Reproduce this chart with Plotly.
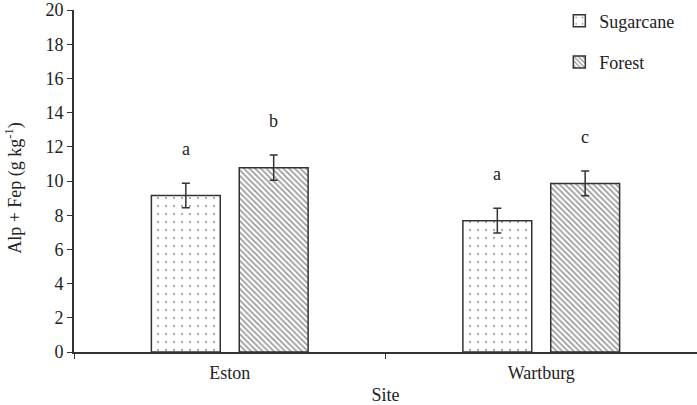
import plotly.graph_objects as go

sites = ["Eston", "Wartburg"]
sugarcane = [9.15, 7.68]
sugarcane_err = [0.72, 0.72]
forest = [10.78, 9.86]
forest_err = [0.74, 0.72]
sugarcane_letters = ["a", "a"]
forest_letters = ["b", "c"]
y_ticks = list(range(0, 21, 2))

FONT = "'Liberation Serif', 'Times New Roman', serif"
DARK = "#333333"
TXT = "#222222"
FS = 18

fig = go.Figure()
fig.add_trace(go.Bar(
    name="Sugarcane", x=sites, y=sugarcane, legendgroup="s",
    error_y=dict(type="data", array=sugarcane_err, color=DARK, thickness=1.5, width=4),
    marker=dict(color="white", line=dict(color=DARK, width=1.5),
                pattern=dict(shape=".", fgcolor="#222222", bgcolor="white", size=8, solidity=0.05)),
))
fig.add_trace(go.Bar(
    name="Forest", x=sites, y=forest, legendgroup="f",
    error_y=dict(type="data", array=forest_err, color=DARK, thickness=1.5, width=4),
    marker=dict(color="white", line=dict(color=DARK, width=1.5),
                pattern=dict(shape="\\", fgcolor="#333333", bgcolor="white", size=4, solidity=0.42)),
))

offset = 2.0
for i, s in enumerate(sites):
    fig.add_annotation(x=s, y=sugarcane[i] + sugarcane_err[i] + offset, text=sugarcane_letters[i],
                       showarrow=False, xshift=-44, font=dict(family=FONT, size=FS, color=TXT))
    fig.add_annotation(x=s, y=forest[i] + forest_err[i] + offset, text=forest_letters[i],
                       showarrow=False, xshift=44, font=dict(family=FONT, size=FS, color=TXT))

fig.add_annotation(xref="paper", yref="paper", x=-74 / 623, xanchor="left", xshift=0,
                   y=0.48, yanchor="middle", textangle=-90, showarrow=False,
                   text="Alp + Fep (g kg<sup>-1</sup>)", font=dict(family=FONT, size=FS, color=TXT))

fig.update_layout(
    width=697, height=405,
    margin=dict(l=74, r=0, t=7, b=53),
    paper_bgcolor="white", plot_bgcolor="white",
    font=dict(family=FONT, size=FS, color=TXT),
    barmode="group", bargap=0.436, bargroupgap=0.216,
    legend=dict(x=0.779, y=1.022, xanchor="left", yanchor="top", traceorder="grouped",
                tracegroupgap=15, font=dict(family=FONT, size=FS, color=TXT), bgcolor="rgba(0,0,0,0)"),
    xaxis=dict(showline=True, linecolor=DARK, linewidth=1.5, ticks="outside", tickson="boundaries",
               ticklen=5, tickcolor=DARK, ticklabelstandoff=4,
               title=dict(text="Site", standoff=8, font=dict(family=FONT, size=FS, color=TXT)),
               tickfont=dict(family=FONT, size=FS, color=TXT)),
    yaxis=dict(range=[0, 20], tickvals=y_ticks, showline=True, linecolor=DARK, linewidth=2,
               ticks="outside", ticklen=5, tickcolor=DARK, showgrid=False, zeroline=False,
               ticklabeloverflow="allow",
               tickfont=dict(family=FONT, size=FS, color=TXT)),
)

fig.write_html("out.html")
